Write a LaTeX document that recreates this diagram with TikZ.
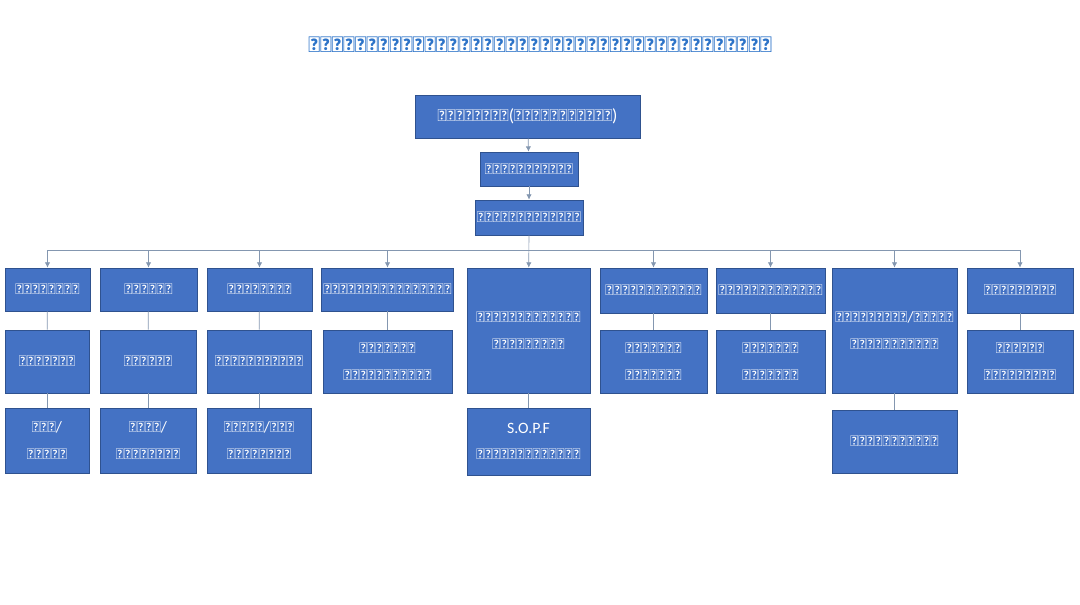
\documentclass[tikz,border=0pt]{standalone}
\usepackage{fontspec}
\setmainfont{Carlito}
\newfontfamily\mmfont{Carlito}
\usetikzlibrary{arrows.meta}
\definecolor{boxblue}{HTML}{4472C4}
\definecolor{boxedge}{HTML}{2F528F}
\definecolor{linkgray}{HTML}{8497B0}
\definecolor{titleblue}{HTML}{2E74C8}
\tikzset{
  box/.style={rectangle, draw=boxedge, fill=boxblue, text=white, align=center, font=\mmfont\fontsize{9}{15}\selectfont, inner sep=1pt},
  link/.style={draw=linkgray, thin},
  feed/.style={draw=linkgray, thin, -{Latex[length=3pt,width=3pt]}}
}
\begin{document}
\begin{tikzpicture}
\useasboundingbox (0,0) rectangle (21.6,-12.08);
\node[text=titleblue, font=\mmfont\bfseries\fontsize{13}{15}\selectfont] (title) at (10.8,-0.9) {ချင်းပြည်နယ်ပြည်သူ့ရဲတပ်ဖွဲ့၏ဖွဲ့စည်းပုံ};
% top of the chain
\node[box, minimum width=4.5cm, minimum height=0.86cm, font=\mmfont\fontsize{10}{15}\selectfont] (hq) at (10.55,-2.33) {ဌာနချုပ်(ပြည်နယ်ရုံး)};
\node[box, minimum width=1.96cm, minimum height=0.68cm] (chief) at (10.58,-3.38) {ရဲချုပ်ရုံး};
\node[box, minimum width=1.96cm, minimum height=0.70cm] (deputy) at (10.58,-4.35) {ဒုရဲချုပ်ရုံး};
% first row
\node[box, minimum width=1.70cm, minimum height=0.86cm] (a1) at (0.95,-5.79) {ဦးစီးဌာန};
\node[box, minimum width=1.94cm, minimum height=0.86cm] (a2) at (2.97,-5.79) {ရေးဌာန};
\node[box, minimum width=2.10cm, minimum height=0.86cm] (a3) at (5.19,-5.79) {ထောက်ဌာန};
\node[box, minimum width=2.58cm, minimum height=0.86cm] (a4) at (7.75,-5.79) {ရဲလေ့ကျင့်ရေးဌာန};
\node[box, minimum width=2.46cm, minimum height=2.50cm] (a5) at (10.57,-6.61) {အထူးစစ်ဆင်ရေး\\ရဲတပ်ဖွဲ့};
\node[box, minimum width=2.14cm, minimum height=0.90cm] (a6) at (13.07,-5.81) {သတင်းတပ်ဖွဲ့};
\node[box, minimum width=2.18cm, minimum height=0.90cm] (a7) at (15.41,-5.81) {မူးယစ်တပ်ဖွဲ့};
\node[box, minimum width=2.50cm, minimum height=2.50cm] (a8) at (17.89,-6.61) {ပြည်တွင်း/ပြည်ပ\\ဆက်ဆံရေးဌာန};
\node[box, minimum width=2.12cm, minimum height=0.90cm] (a9) at (20.40,-5.81) {အကျဉ်းဌာန};
% second row
\node[box, minimum width=1.68cm, minimum height=1.26cm] (b1) at (0.94,-7.23) {မှုခင်း};
\node[box, minimum width=1.92cm, minimum height=1.26cm] (b2) at (2.96,-7.23) {အင်အား};
\node[box, minimum width=2.08cm, minimum height=1.26cm] (b3) at (5.18,-7.23) {ထောက်ပံ့ရေး};
\node[box, minimum width=2.58cm, minimum height=1.26cm] (b4) at (7.75,-7.23) {သင်တန်း\\ကျောင်းများ};
\node[box, minimum width=2.14cm, minimum height=1.26cm] (b6) at (13.07,-7.23) {တပ်ဖွဲ့\\ဌာနများ};
\node[box, minimum width=2.18cm, minimum height=1.26cm] (b7) at (15.41,-7.23) {တပ်ဖွဲ့\\ဌာနများ};
\node[box, minimum width=2.12cm, minimum height=1.26cm] (b9) at (20.40,-7.23) {အကျဉ်း\\ထောင်များ};
% third row
\node[box, minimum width=1.68cm, minimum height=1.30cm] (c1) at (0.94,-8.81) {လုံ/\\ထောက်};
\node[box, minimum width=1.92cm, minimum height=1.30cm] (c2) at (2.96,-8.81) {ဥပဒေ/\\စည်းကမ်း};
\node[box, minimum width=2.08cm, minimum height=1.30cm] (c3) at (5.18,-8.81) {ဘဏ္ဍာ/တည်\\ဆောက်ရေး};
\node[box, minimum width=2.46cm, minimum height=1.34cm] (c5) at (10.57,-8.83) {S.O.P.F\\ရဲတပ်ရင်းများ};
\node[box, minimum width=2.50cm, minimum height=1.26cm] (c8) at (17.89,-8.83) {ပြန်ကြားရေး};
% bus
\coordinate (busL) at (0.95,-5.0);
\coordinate (busR) at (20.40,-5.0);
\draw[feed] (hq) -- (chief);
\draw[feed] (chief) -- (deputy);
\draw[feed] (deputy) -- (a5);
\draw[link] (busL) -- (busR);
\foreach \n in {a1,a2,a3,a4,a6,a7,a8,a9}
  \draw[feed] (busL -| \n) -- (\n);
\foreach \u/\v in {a1/b1,b1/c1,a2/b2,b2/c2,a3/b3,b3/c3,a4/b4,a5/c5,a6/b6,a7/b7,a8/c8,a9/b9}
  \draw[link] (\u) -- (\v);
\end{tikzpicture}
\end{document}
